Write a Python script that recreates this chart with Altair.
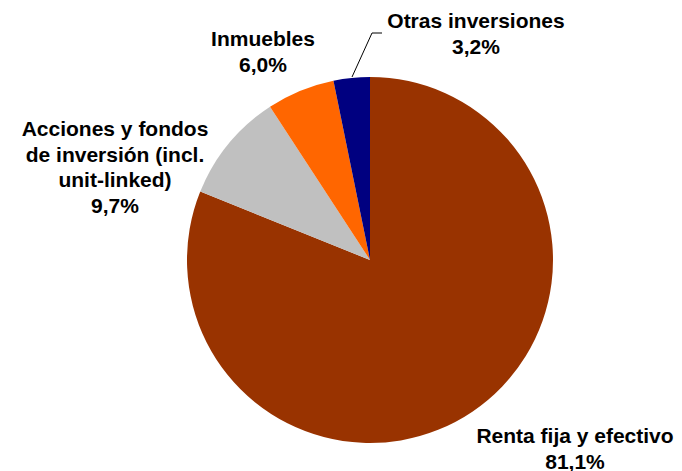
import altair as alt
import pandas as pd

categories = ["Renta fija y efectivo", "Acciones y fondos de inversión (incl. unit-linked)", "Inmuebles", "Otras inversiones"]
values = [81.1, 9.7, 6.0, 3.2]
colors = ["#993300", "#C0C0C0", "#FF6600", "#000080"]
label_texts = [
    "Renta fija y efectivo\n81,1%",
    "Acciones y fondos\nde inversión (incl.\nunit-linked)\n9,7%",
    "Inmuebles\n6,0%",
    "Otras inversiones\n3,2%",
]

# layout (pixel positions inside the chart area; y = middle of first line)
CX, CY, R = 362, 252, 183
label_pos = [(567, 429), (107, 122), (255, 32), (468, 14)]
leader = [(344, 69), (364, 25), (374, 25)]

df = pd.DataFrame({"cat": categories, "val": values, "ord": list(range(len(categories)))})
lab = pd.DataFrame({
    "text": label_texts,
    "x": [p[0] for p in label_pos],
    "y": [p[1] for p in label_pos],
})
lead = pd.DataFrame({"x": [p[0] for p in leader], "y": [p[1] for p in leader], "o": [0, 1, 2]})

pie = alt.Chart(df).mark_arc(outerRadius=R, stroke=None).encode(
    theta=alt.Theta("val:Q", stack=True),
    color=alt.Color("cat:N", scale=alt.Scale(domain=categories, range=colors), legend=None),
    order=alt.Order("ord:Q"),
    x=alt.value(CX),
    y=alt.value(CY),
)

text = alt.Chart(lab).mark_text(
    font="Liberation Sans", fontWeight="bold", fontSize=21, lineBreak="\n",
    lineHeight=25.5, align="center", baseline="middle", color="black",
).encode(
    x=alt.X("x:Q", scale=None),
    y=alt.Y("y:Q", scale=None),
    text="text:N",
)

line = alt.Chart(lead).mark_line(color="black", strokeWidth=1).encode(
    x=alt.X("x:Q", scale=None),
    y=alt.Y("y:Q", scale=None),
    order="o:Q",
)

chart = alt.layer(pie, line, text).properties(
    width=666, height=463, padding=0,
    autosize=alt.AutoSizeParams(type="none"),
).configure_view(stroke=None)

chart.save("out.html", embed_options={"renderer": "svg", "actions": False})
